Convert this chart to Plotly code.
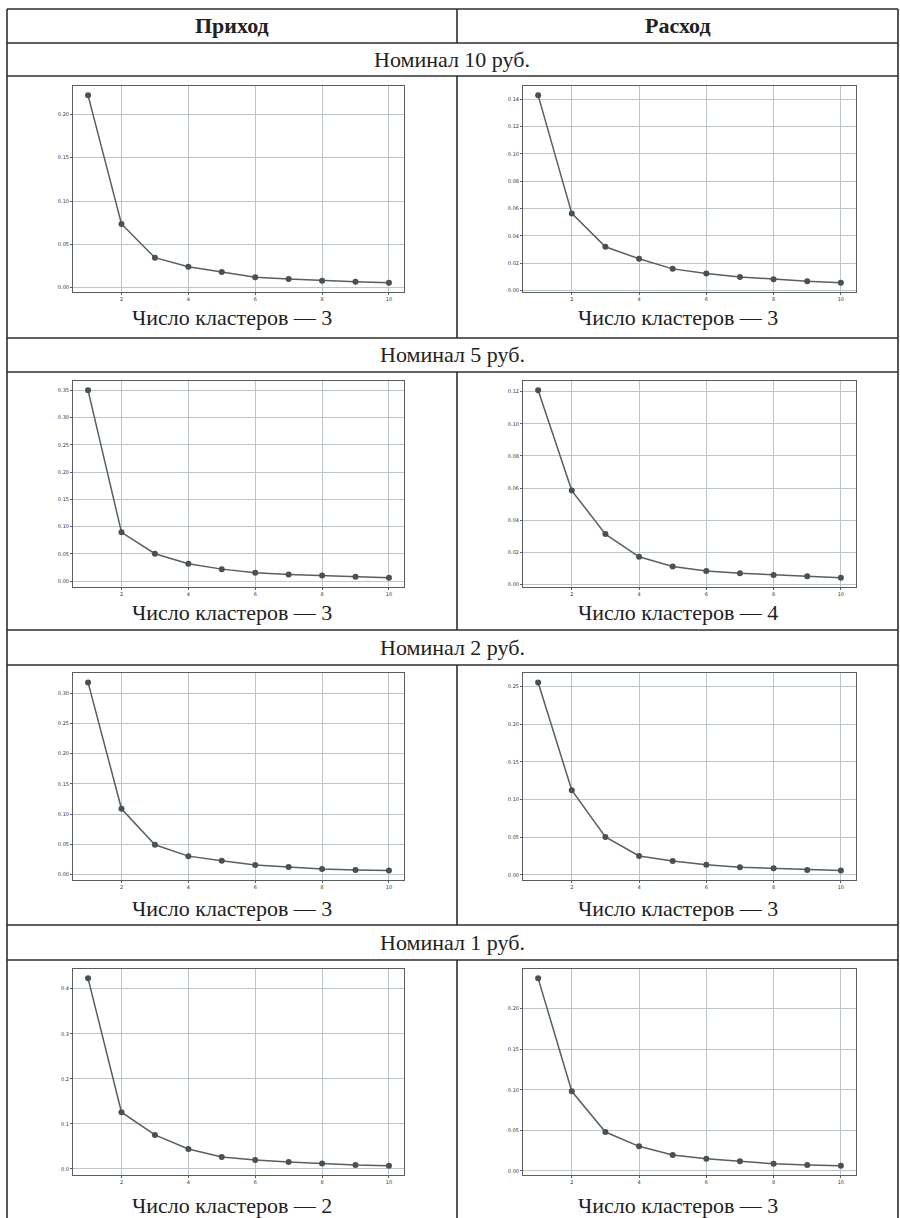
import plotly.graph_objects as go

# ---------------- data ----------------
clusters = [1, 2, 3, 4, 5, 6, 7, 8, 9, 10]

prihod_10 = [0.222, 0.0735, 0.0346, 0.0242, 0.0181, 0.0119, 0.0100, 0.0081, 0.0069, 0.0058]
rashod_10 = [0.143, 0.0564, 0.0319, 0.0231, 0.0157, 0.0123, 0.0098, 0.0081, 0.0066, 0.0056]
prihod_5 = [0.350, 0.0897, 0.0504, 0.0319, 0.0221, 0.0154, 0.0123, 0.0104, 0.0080, 0.0065]
rashod_5 = [0.1208, 0.0584, 0.0313, 0.0172, 0.0111, 0.0084, 0.0069, 0.0059, 0.0050, 0.0042]
prihod_2 = [0.318, 0.1089, 0.0494, 0.0306, 0.0228, 0.0161, 0.0128, 0.0094, 0.0078, 0.0067]
rashod_2 = [0.2553, 0.1124, 0.0504, 0.0252, 0.0186, 0.0137, 0.0102, 0.0088, 0.0066, 0.0058]
prihod_1 = [0.423, 0.126, 0.0756, 0.0444, 0.0267, 0.0200, 0.0156, 0.0119, 0.0089, 0.0074]
rashod_1 = [0.2374, 0.0982, 0.048, 0.0304, 0.0197, 0.0152, 0.0119, 0.0090, 0.0074, 0.0066]

col_titles = ["Приход", "Расход"]
row_titles = ["Номинал 10 руб.", "Номинал 5 руб.", "Номинал 2 руб.", "Номинал 1 руб."]
captions = [["Число кластеров — 3", "Число кластеров — 3"],
            ["Число кластеров — 3", "Число кластеров — 4"],
            ["Число кластеров — 3", "Число кластеров — 3"],
            ["Число кластеров — 2", "Число кластеров — 3"]]
series = [[prihod_10, rashod_10], [prihod_5, rashod_5], [prihod_2, rashod_2], [prihod_1, rashod_1]]
y_dticks = [[0.05, 0.02], [0.05, 0.02], [0.05, 0.05], [0.1, 0.05]]
y_formats = [[".2f", ".2f"], [".2f", ".2f"], [".2f", ".2f"], [".1f", ".2f"]]
x_ticks = [2, 4, 6, 8, 10]

# ---------------- layout geometry (pixels) ----------------
W, H = 900, 1218
def px(x):
    return x / W
def py(y):
    return 1 - y / H

row_frames = [(86, 292), (381, 587), (673, 880), (969, 1175)]
col_frames = [(73, 404), (523, 856)]
row_caption_y = [317, 612, 908, 1205]
row_title_y = [59.5, 355, 647.5, 942.5]
col_center_x = [232, 677.5]

LINE_COL = "#595e62"
MARK_COL = "#4b5054"
GRID_COL = "#bcc6ca"
FRAME_COL = "#5a5e61"
BORDER = "#2e2e2e"
SERIF = "Liberation Serif"
TXT_SIZE = 22

fig = go.Figure()
layout = dict(width=W, height=H, margin=dict(l=0, r=0, t=0, b=0),
              paper_bgcolor="white", plot_bgcolor="white", showlegend=False)

idx = 0
for r in range(4):
    for c in range(2):
        idx += 1
        vals = series[r][c]
        suffix = "" if idx == 1 else str(idx)
        fig.add_trace(go.Scatter(
            x=clusters, y=vals, mode="lines+markers",
            line=dict(color=LINE_COL, width=1.5),
            marker=dict(color=MARK_COL, size=6),
            xaxis="x" + suffix, yaxis="y" + suffix, hoverinfo="x+y"))
        vmin, vmax = min(vals), max(vals)
        span = vmax - vmin
        y0, y1 = row_frames[r]
        x0, x1 = col_frames[c]
        layout["xaxis" + suffix] = dict(
            domain=[px(x0), px(x1)], anchor="y" + suffix,
            range=[0.55, 10.45], tickvals=x_ticks,
            showgrid=True, gridcolor=GRID_COL, gridwidth=1, zeroline=False,
            showline=True, mirror=True, linecolor=FRAME_COL, linewidth=1,
            ticks="outside", ticklen=2, tickcolor=FRAME_COL,
            tickfont=dict(family="DejaVu Sans", size=5, color="#333"))
        layout["yaxis" + suffix] = dict(
            domain=[py(y1), py(y0)], anchor="x" + suffix,
            range=[vmin - 0.05 * span, vmax + 0.05 * span],
            tick0=0, dtick=y_dticks[r][c], tickformat=y_formats[r][c],
            showgrid=True, gridcolor=GRID_COL, gridwidth=1, zeroline=False,
            showline=True, mirror=True, linecolor=FRAME_COL, linewidth=1,
            ticks="outside", ticklen=2, tickcolor=FRAME_COL,
            tickfont=dict(family="DejaVu Sans", size=5, color="#333"))

# ---------------- table borders ----------------
shapes = []
def hline(y, xa=7, xb=898):
    shapes.append(dict(type="line", xref="paper", yref="paper",
                       x0=px(xa), x1=px(xb), y0=py(y), y1=py(y),
                       line=dict(color=BORDER, width=1.6)))
def vline(x, ya, yb):
    shapes.append(dict(type="line", xref="paper", yref="paper",
                       x0=px(x), x1=px(x), y0=py(ya), y1=py(yb),
                       line=dict(color=BORDER, width=1.6)))

for y in [9, 43, 76, 338, 372, 630, 665, 925, 960]:
    hline(y)
vline(7, 9, 1218)
vline(898, 9, 1218)
for ya, yb in [(9, 43), (76, 338), (372, 630), (665, 925), (960, 1218)]:
    vline(457, ya, yb)

# ---------------- texts ----------------
ann = []
for c in range(2):
    ann.append(dict(text="<b>" + col_titles[c] + "</b>", xref="paper", yref="paper",
                    x=px(col_center_x[c]), y=py(26), showarrow=False,
                    xanchor="center", yanchor="middle",
                    font=dict(family=SERIF, size=TXT_SIZE, color="#222")))
for r in range(4):
    ann.append(dict(text=row_titles[r], xref="paper", yref="paper",
                    x=px(452), y=py(row_title_y[r]), showarrow=False,
                    xanchor="center", yanchor="middle",
                    font=dict(family=SERIF, size=TXT_SIZE, color="#222")))
    for c in range(2):
        ann.append(dict(text=captions[r][c], xref="paper", yref="paper",
                        x=px(col_center_x[c]), y=py(row_caption_y[r]), showarrow=False,
                        xanchor="center", yanchor="middle",
                        font=dict(family=SERIF, size=TXT_SIZE, color="#222")))

layout["shapes"] = shapes
layout["annotations"] = ann
fig.update_layout(**layout)

fig.write_html("out.html", config={"displayModeBar": False},
               post_script="document.body.style.margin='0';document.body.style.overflow='hidden';")
